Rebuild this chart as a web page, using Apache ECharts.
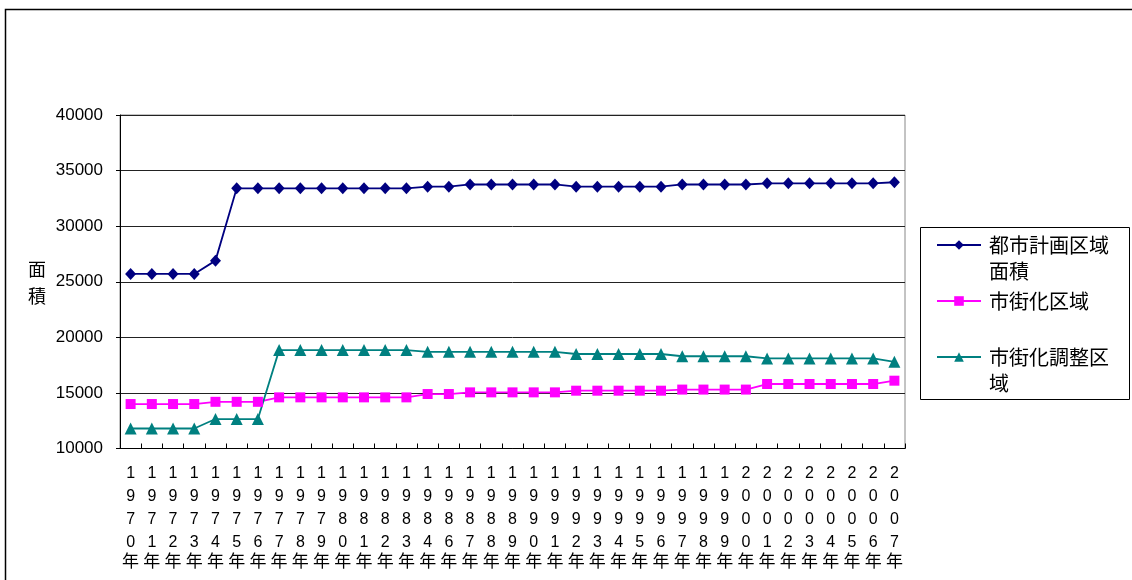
<!DOCTYPE html>
<html><head><meta charset="utf-8">
<script src="https://cdn.jsdelivr.net/npm/echarts@6/dist/echarts.min.js"></script>
<style>html,body{margin:0;padding:0;background:#fff}#c{width:1132px;height:580px}</style>
</head><body><div id="c"></div>
<script>
const years = ['1970年','1971年','1972年','1973年','1974年','1975年','1976年','1977年','1978年','1979年',
  '1980年','1981年','1982年','1983年','1984年','1986年','1987年','1988年','1989年','1990年',
  '1991年','1992年','1993年','1994年','1995年','1996年','1997年','1998年','1999年','2000年',
  '2001年','2002年','2003年','2004年','2005年','2006年','2007年'];
const cityPlanArea = [25700,25700,25700,25700,26900,33400,33400,33400,33400,33400,
  33400,33400,33400,33400,33550,33550,33750,33750,33750,33750,
  33750,33550,33550,33550,33550,33550,33750,33750,33750,33750,
  33850,33850,33850,33850,33850,33850,33950];
const urbanArea = [14000,14000,14000,14000,14200,14200,14200,14600,14600,14600,
  14600,14600,14600,14600,14900,14900,15050,15050,15050,15050,
  15050,15200,15200,15200,15200,15200,15300,15300,15300,15300,
  15800,15800,15800,15800,15800,15800,16100];
const urbanControlArea = [11800,11800,11800,11800,12650,12650,12650,18850,18850,18850,
  18850,18850,18850,18850,18700,18700,18700,18700,18700,18700,
  18700,18500,18500,18500,18500,18500,18300,18300,18300,18300,
  18100,18100,18100,18100,18100,18100,17800];
const seriesNames = ['都市計画区域面積','市街化区域','市街化調整区域'];
const legendLabels = ['都市計画区域\n面積','市街化区域','市街化調整区\n域'];
const yMin = 10000, yMax = 40000, yStep = 5000;
const yAxisTitle = '面\n積';

const LAT = "'Liberation Sans', 'Noto Sans CJK JP', sans-serif";
const CJK = "'Noto Sans CJK JP', sans-serif";
const colors = ['#000080', '#ff00ff', '#008080'];
const symbols = ['diamond', 'rect', 'triangle'];
const symbolSizes = [[11, 12], 10, 12];
const legendTops = [206, 288, 318];
const legendPrefix = ['\n', '', '\n'];

const chart = echarts.init(document.getElementById('c'), null, {renderer: 'canvas'});
const dataSets = [cityPlanArea, urbanArea, urbanControlArea];

chart.setOption({
  animation: false,
  backgroundColor: '#fff',
  grid: {left: 120, right: 227, top: 115, bottom: 131.5, show: true, borderColor: '#888', borderWidth: 1, containLabel: false},
  xAxis: {
    type: 'category', data: years, boundaryGap: true,
    axisLine: {lineStyle: {color: '#000', width: 1}},
    axisTick: {show: true, inside: true, length: 5, lineStyle: {color: '#000'}},
    axisLabel: {
      interval: 0, margin: 13,
      formatter: function (v) {
        const chars = v.split('');
        const last = chars.pop();
        return chars.map(c => '{d|' + c + '}').join('\n') + '\n{n|' + last + '}';
      },
      rich: {
        d: {fontSize: 16, lineHeight: 23.3, fontFamily: LAT, color: '#000'},
        n: {fontSize: 17, lineHeight: 12.2, fontFamily: CJK, color: '#000'}
      }
    },
    splitLine: {show: false}
  },
  yAxis: {
    type: 'value', min: yMin, max: yMax, interval: yStep,
    axisLine: {show: true, lineStyle: {color: '#000', width: 1}},
    axisTick: {show: true, length: 4, lineStyle: {color: '#000'}},
    axisLabel: {fontSize: 17, fontFamily: LAT, color: '#000', margin: 17, formatter: v => String(v)},
    splitLine: {show: true, lineStyle: {color: '#222', width: 1}}
  },
  legend: seriesNames.map((n, i) => ({
    data: [n], orient: 'vertical', left: 936, top: legendTops[i], padding: 0,
    itemWidth: 44, itemHeight: 12, selectedMode: false,
    formatter: () => legendPrefix[i] + legendLabels[i],
    textStyle: {fontSize: 20, lineHeight: 26, fontFamily: CJK, color: '#000', padding: [0, 0, 0, 3]}
  })),
  graphic: [
    {type: 'rect', shape: {x: 5.5, y: 9.5, width: 1200, height: 700}, style: {fill: 'none', stroke: '#000', lineWidth: 1.5}, silent: true, z: -1},
    {type: 'rect', shape: {x: 920.5, y: 227.5, width: 209, height: 172}, style: {fill: 'none', stroke: '#000', lineWidth: 1}, silent: true},
    {type: 'text', x: 37, y: 282.5, style: {text: yAxisTitle, fontSize: 18, lineHeight: 27, fontFamily: CJK, fill: '#000', align: 'center', verticalAlign: 'middle'}}
  ],
  series: seriesNames.map((n, i) => ({
    name: n, type: 'line', data: dataSets[i],
    symbol: symbols[i], symbolSize: symbolSizes[i],
    lineStyle: {color: colors[i], width: 1.8},
    itemStyle: {color: colors[i]},
    emphasis: {disabled: true}
  }))
});
</script></body></html>
